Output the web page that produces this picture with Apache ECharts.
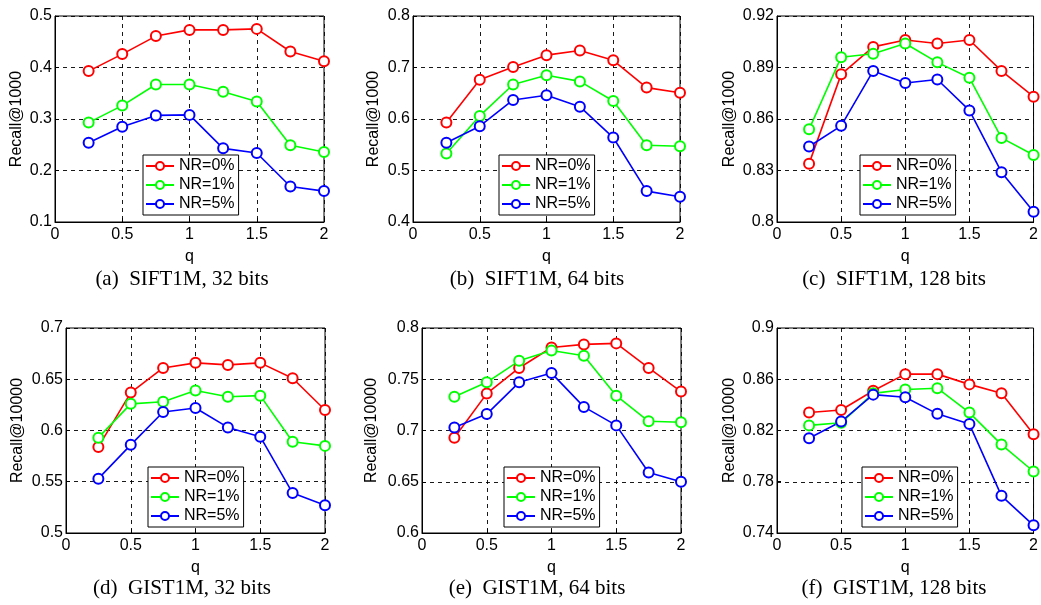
<!DOCTYPE html>
<html>
<head>
<meta charset="utf-8">
<script src="https://cdn.jsdelivr.net/npm/echarts@6/dist/echarts.min.js"></script>
<style>
html,body{margin:0;padding:0;background:#fff;}
#chart{width:1041px;height:605px;}
</style>
</head>
<body>
<div id="chart"></div>
<script>
// ---------- data ----------
const qValues = [0.25, 0.5, 0.75, 1, 1.25, 1.5, 1.75, 2];
const seriesNames = ['NR=0%', 'NR=1%', 'NR=5%'];
const xTicks = [0, 0.5, 1, 1.5, 2];

const sift32_nr0 = [0.393, 0.426, 0.461, 0.473, 0.473, 0.475, 0.431, 0.412];
const sift32_nr1 = [0.293, 0.326, 0.367, 0.367, 0.353, 0.334, 0.249, 0.236];
const sift32_nr5 = [0.254, 0.285, 0.307, 0.308, 0.243, 0.234, 0.169, 0.160];

const sift64_nr0 = [0.593, 0.676, 0.701, 0.724, 0.733, 0.714, 0.661, 0.651];
const sift64_nr1 = [0.533, 0.606, 0.667, 0.685, 0.673, 0.635, 0.549, 0.547];
const sift64_nr5 = [0.554, 0.586, 0.637, 0.646, 0.624, 0.564, 0.460, 0.449];

const sift128_nr0 = [0.834, 0.886, 0.902, 0.906, 0.904, 0.906, 0.888, 0.873];
const sift128_nr1 = [0.854, 0.896, 0.898, 0.904, 0.893, 0.884, 0.849, 0.839];
const sift128_nr5 = [0.844, 0.856, 0.888, 0.881, 0.883, 0.865, 0.829, 0.806];

const gist32_nr0 = [0.584, 0.637, 0.661, 0.666, 0.664, 0.666, 0.651, 0.620];
const gist32_nr1 = [0.593, 0.626, 0.628, 0.639, 0.633, 0.634, 0.589, 0.585];
const gist32_nr5 = [0.553, 0.586, 0.618, 0.622, 0.603, 0.594, 0.539, 0.527];

const gist64_nr0 = [0.693, 0.736, 0.761, 0.781, 0.784, 0.785, 0.761, 0.738];
const gist64_nr1 = [0.733, 0.747, 0.768, 0.778, 0.773, 0.734, 0.709, 0.708];
const gist64_nr5 = [0.703, 0.716, 0.747, 0.756, 0.723, 0.705, 0.659, 0.650];

const gist128_nr0 = [0.834, 0.836, 0.851, 0.864, 0.864, 0.856, 0.849, 0.817];
const gist128_nr1 = [0.824, 0.826, 0.849, 0.852, 0.853, 0.834, 0.809, 0.788];
const gist128_nr5 = [0.814, 0.827, 0.848, 0.846, 0.833, 0.825, 0.769, 0.746];

const yTicksSift32 = [0.1, 0.2, 0.3, 0.4, 0.5];
const yTicksSift64 = [0.4, 0.5, 0.6, 0.7, 0.8];
const yTicksSift128 = [0.8, 0.83, 0.86, 0.89, 0.92];
const yTicksGist32 = [0.5, 0.55, 0.6, 0.65, 0.7];
const yTicksGist64 = [0.6, 0.65, 0.7, 0.75, 0.8];
const yTicksGist128 = [0.74, 0.78, 0.82, 0.86, 0.9];

const captions = ['(a)  SIFT1M, 32 bits', '(b)  SIFT1M, 64 bits', '(c)  SIFT1M, 128 bits',
                  '(d)  GIST1M, 32 bits', '(e)  GIST1M, 64 bits', '(f)  GIST1M, 128 bits'];
const yNames = ['Recall@1000', 'Recall@1000', 'Recall@1000', 'Recall@10000', 'Recall@10000', 'Recall@10000'];

// ---------- layout / style ----------
const colors = ['#ff0000', '#00ff00', '#0000ff'];
const panels = [
  {values: [sift32_nr0, sift32_nr1, sift32_nr5], yTicks: yTicksSift32, grid: [55, 16, 269, 206], legend: [143, 155], cap: [182, 279], nameGap: 30},
  {values: [sift64_nr0, sift64_nr1, sift64_nr5], yTicks: yTicksSift64, grid: [413, 16, 267, 206], legend: [499, 155], cap: [537, 279], nameGap: 31},
  {values: [sift128_nr0, sift128_nr1, sift128_nr5], yTicks: yTicksSift128, grid: [777, 16, 260, 206], legend: [860, 155], cap: [894, 279], nameGap: 39},
  {values: [gist32_nr0, gist32_nr1, gist32_nr5], yTicks: yTicksGist32, grid: [66, 328, 259, 205], legend: [148, 467], cap: [182, 588], nameGap: 40},
  {values: [gist64_nr0, gist64_nr1, gist64_nr5], yTicks: yTicksGist64, grid: [422, 328, 259, 205], legend: [504, 467], cap: [537, 588], nameGap: 42},
  {values: [gist128_nr0, gist128_nr1, gist128_nr5], yTicks: yTicksGist128, grid: [777, 328, 260, 205], legend: [862, 467], cap: [894, 588], nameGap: 39}
];

const FONT = 'Liberation Sans, Arial, Helvetica, sans-serif';
const AX_FS = 16;

const grids = [], xAxes = [], yAxes = [], series = [], legends = [], graphics = [];
panels.forEach((p, i) => {
  grids.push({left: p.grid[0], top: p.grid[1], width: p.grid[2], height: p.grid[3],
    show: true, borderColor: '#000', borderWidth: 1, backgroundColor: 'transparent', containLabel: false});
  const splitLine = {show: true, lineStyle: {color: '#000', type: [4, 4], width: 0.9}};
  xAxes.push({type: 'value', gridIndex: i, min: 0, max: 2,
    name: 'q', nameLocation: 'middle', nameGap: 27,
    nameTextStyle: {fontFamily: FONT, fontSize: AX_FS, color: '#000'},
    axisLine: {show: true, onZero: false, lineStyle: {color: '#000', width: 1}},
    axisTick: {show: true, inside: true, length: 4, lineStyle: {color: '#000'}, customValues: xTicks},
    axisLabel: {fontFamily: FONT, fontSize: AX_FS, color: '#000', margin: 5, customValues: xTicks},
    splitLine: splitLine});
  yAxes.push({type: 'value', gridIndex: i, min: p.yTicks[0], max: p.yTicks[p.yTicks.length - 1],
    name: yNames[i], nameLocation: 'middle', nameGap: p.nameGap, nameRotate: 90,
    nameTextStyle: {fontFamily: FONT, fontSize: AX_FS, color: '#000'},
    axisLine: {show: true, onZero: false, lineStyle: {color: '#000', width: 1}},
    axisTick: {show: true, inside: true, length: 4, lineStyle: {color: '#000'}, customValues: p.yTicks},
    axisLabel: {fontFamily: FONT, fontSize: AX_FS, color: '#000', margin: 3, customValues: p.yTicks},
    splitLine: splitLine});
  p.values.forEach((vals, k) => {
    series.push({type: 'line', name: seriesNames[k], xAxisIndex: i, yAxisIndex: i,
      data: qValues.map((q, j) => [q, vals[j]]),
      symbol: 'emptyCircle', symbolSize: 10, showSymbol: true,
      lineStyle: {color: colors[k], width: 1.6},
      itemStyle: {color: colors[k], borderColor: colors[k], borderWidth: 1.6},
      emphasis: {disabled: true}, animation: false});
  });
  legends.push({data: seriesNames, orient: 'vertical', left: p.legend[0], top: p.legend[1],
    backgroundColor: '#fff', borderColor: '#000', borderWidth: 1, borderRadius: 0,
    padding: [3, 4, 3, 2], itemWidth: 28, itemHeight: 10, itemGap: 3,
    selectedMode: false,
    textStyle: {fontFamily: FONT, fontSize: 16, color: '#000', lineHeight: 16}});
  graphics.push({type: 'text', x: p.cap[0], y: p.cap[1], z: 100,
    style: {text: captions[i], fontFamily: 'Liberation Serif, Times New Roman, serif', fontSize: 21,
      fill: '#000', align: 'center', verticalAlign: 'middle'}});
});

const chart = echarts.init(document.getElementById('chart'), null, {renderer: 'canvas'});
chart.setOption({
  animation: false,
  backgroundColor: '#fff',
  grid: grids, xAxis: xAxes, yAxis: yAxes, series: series, legend: legends, graphic: graphics
});
</script>
</body>
</html>
